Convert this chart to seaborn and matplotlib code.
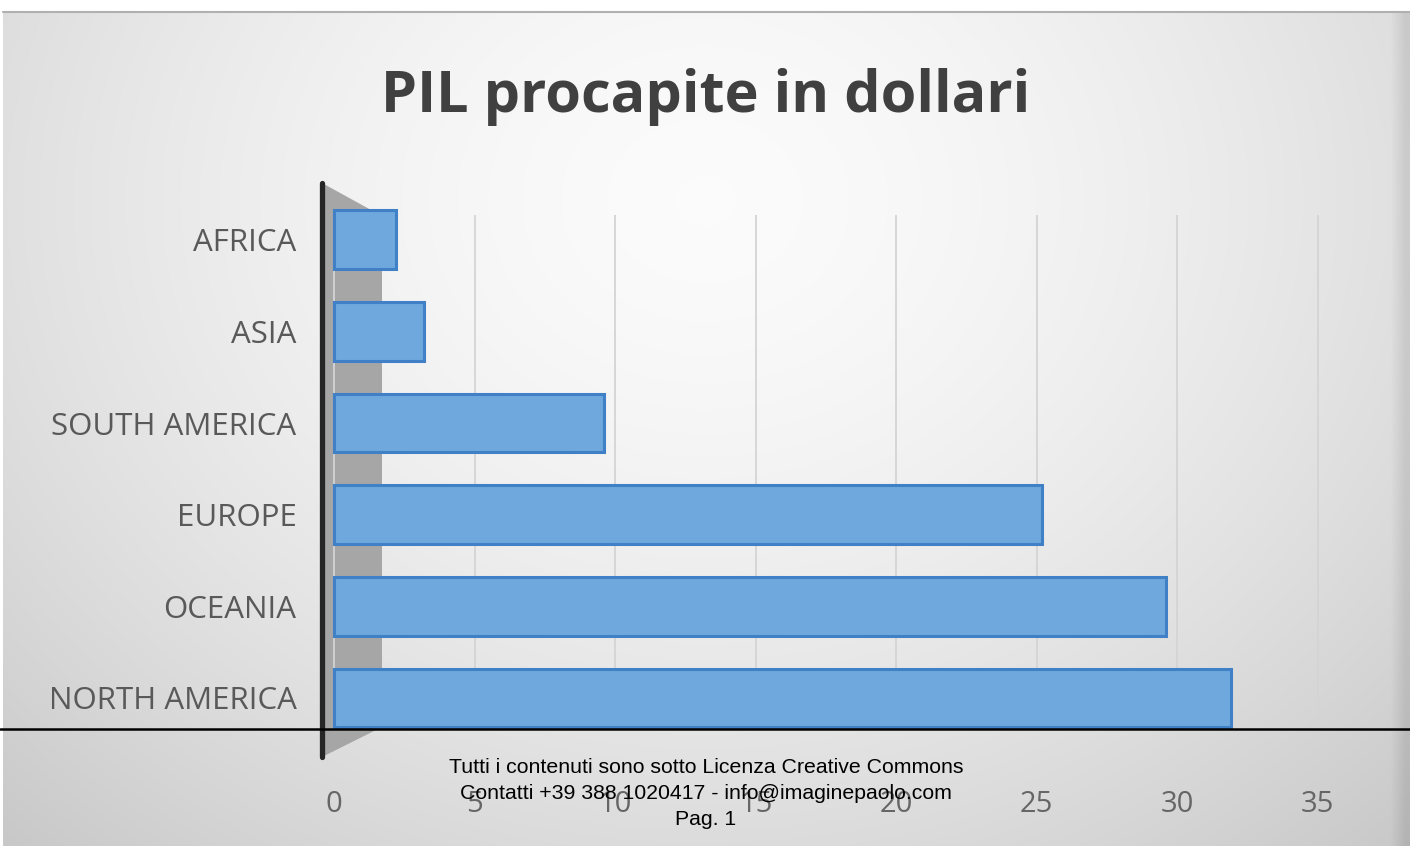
import numpy as np
import pandas as pd
import matplotlib
matplotlib.use("Agg")
import matplotlib.pyplot as plt
from matplotlib.lines import Line2D
import seaborn as sns

# ---- data ----
regions = ["AFRICA", "ASIA", "SOUTH AMERICA", "EUROPE", "OCEANIA", "NORTH AMERICA"]
pil_values = [2.2, 3.2, 9.6, 25.2, 29.6, 31.9]
x_ticks = [0, 5, 10, 15, 20, 25, 30, 35]
title_text = "PIL procapite in dollari"
footer_lines = ["Tutti i contenuti sono sotto Licenza Creative Commons",
                "Contatti +39 388 1020417 - info@imaginepaolo.com",
                "Pag. 1"]

df = pd.DataFrame({"region": regions, "value": pil_values})

sns.set_theme(style="white")
plt.rcParams["font.family"] = ["Open Sans", "DejaVu Sans"]

W, H = 1410, 846
fig = plt.figure(figsize=(W / 100, H / 100), dpi=100)
fig.patch.set_facecolor("white")

def fx(px):
    return px / W

def fy(py):
    return 1 - py / H

# ---- background gradient (slide) ----
bg = fig.add_axes([0, 0, 1, 1], zorder=-10)
yy, xx = np.mgrid[0:H, 0:W]
r = np.sqrt(((xx - 705) / 900.0) ** 2 + ((yy - 200) / 760.0) ** 2)
val = 0.985 - 0.16 * r ** 1.6
# darker shading at the right edge of the slide frame
val = val - 0.08 * np.clip((xx - 1390) / 15.0, 0, 1)
val = np.clip(val, 0, 1)
img = np.dstack([val, val, val])
img[:12, :, :] = 1.0
img[:, :3, :] = 1.0
bg.imshow(img, extent=[0, W, H, 0], aspect="auto", interpolation="bilinear")
bg.set_xlim(0, W)
bg.set_ylim(H, 0)
bg.axis("off")
bg.plot([3, W], [12.5, 12.5], color="#b0b0b0", lw=1.5)
# 3D side wall (decoration)
bg.fill([322, 382, 382, 322], [183, 216, 727, 757], color="#a6a6a6", lw=0)

# ---- main axes ----
ax_left, ax_right = 322.8, 1360.0
ax_top, ax_bottom = 215.0, 730.0
ax = fig.add_axes([fx(ax_left), fy(ax_bottom), fx(ax_right - ax_left), (ax_bottom - ax_top) / H])
ax.set_facecolor("none")

sns.barplot(data=df, y="region", x="value", orient="h", color="#6fa8dc",
            saturation=1, edgecolor="#3f80c6", linewidth=2.2, width=0.64,
            ax=ax, zorder=3)
for p in ax.patches:
    p.set_clip_on(False)

ax.set_xlim(-0.4, 36.5)
ax.set_ylim(5.35, -0.27)
ax.set_xticks(x_ticks)
ax.set_xticklabels([str(t) for t in x_ticks])
ax.set_xlabel("")
ax.set_ylabel("")
for s in ax.spines.values():
    s.set_visible(False)

ax.grid(axis="x", color="#d4d4d4", lw=1.3, zorder=0)
ax.grid(axis="y", visible=False)

ax.tick_params(axis="x", length=0, pad=43, labelsize=21, labelcolor="#666666")
ax.tick_params(axis="y", length=0, pad=19, labelsize=22.5, labelcolor="#595959")

# black front edge of the wall
fig.add_artist(Line2D([fx(322), fx(322)], [fy(183), fy(757)], color="#262626", lw=3.8,
                      transform=fig.transFigure, zorder=5))

# ---- title ----
fig.text(fx(706), fy(97), title_text, ha="center", va="center", fontsize=41.5,
         fontweight="bold", color="#404040", family=["Open Sans", "DejaVu Sans"])

# ---- footer ----
fig.add_artist(Line2D([0, 1], [fy(729), fy(729)], color="black", lw=1.8,
                      transform=fig.transFigure, zorder=10))
for i, line in enumerate(footer_lines):
    fig.text(fx(706), fy(767 + 26 * i), line, ha="center", va="center", fontsize=15.3,
             color="black", family=["Liberation Sans", "DejaVu Sans"], zorder=11)

fig.savefig("out.png", dpi=100)
